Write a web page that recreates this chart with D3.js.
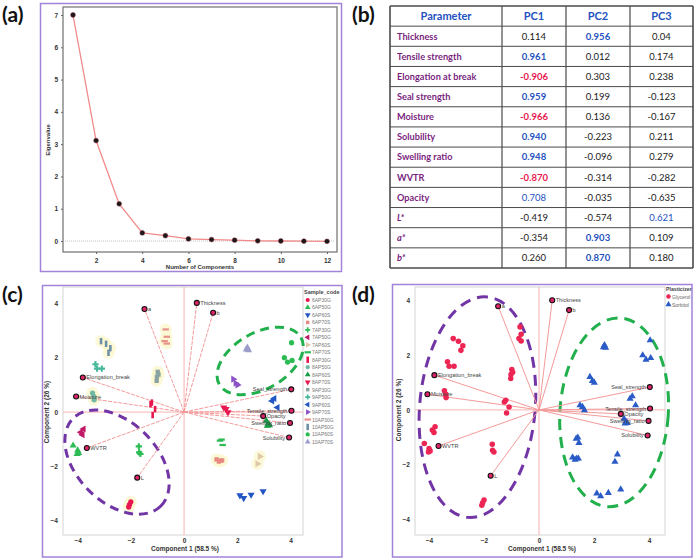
<!DOCTYPE html>
<html><head><meta charset="utf-8">
<script src="https://cdn.jsdelivr.net/npm/d3@7"></script>
<style>body{margin:0;background:#fff}svg{display:block}</style>
</head><body>
<svg id="chart" width="699" height="560"></svg>
<script>
// ---------------- DATA ----------------
const components = [1,2,3,4,5,6,7,8,9,10,11,12];
const eigenvalues = [7.0, 3.11, 1.15, 0.25, 0.165, 0.065, 0.045, 0.025, 0.005, 0.0, -0.005, -0.01];

const tableHeader = ["Parameter","PC1","PC2","PC3"];
const parameters = ["Thickness","Tensile strength","Elongation at break","Seal strength","Moisture","Solubility","Swelling ratio","WVTR","Opacity","L*","a*","b*"];
const pc1 = ["0.114","0.961","-0.906","0.959","-0.966","0.940","0.948","-0.870","0.708","-0.419","-0.354","0.260"];
const pc2 = ["0.956","0.012","0.303","0.199","0.136","-0.223","-0.096","-0.314","-0.035","-0.574","0.903","0.870"];
const pc3 = ["0.04","0.174","0.238","-0.123","-0.167","0.211","0.279","-0.282","-0.635","0.621","0.109","0.180"];

const loadingLabels = ["Thickness","Tensile_strength","Elongation_break","Seal_strength","Moisture","Solubility","Swelling_ratio","WVTR","Opacity","L","a","b"];
const loadingScale = 4.2;

const sampleCodes = ["6AP30G","6AP50G","6AP60S","6AP70S","7AP30G","7AP50G","7AP60S","7AP70S","8AP30G","8AP50G","8AP60S","8AP70S","9AP30G","9AP50G","9AP60S","9AP70S","10AP30G","10AP50G","10AP60S","10AP70S"];
const plasticizer = ["Glycerol","Glycerol","Sorbitol","Sorbitol","Glycerol","Glycerol","Sorbitol","Sorbitol","Glycerol","Glycerol","Sorbitol","Sorbitol","Glycerol","Glycerol","Sorbitol","Sorbitol","Glycerol","Glycerol","Sorbitol","Sorbitol"];
const scores = [
  [[-2.0,-3.30],[-2.05,-3.40],[-2.08,-3.49]],
  [[-4.17,-1.23],[-4.0,-1.41],[-4.02,-1.54],[-3.96,-1.5]],
  [[2.1,-3.06],[2.24,-3.16],[2.52,-3.04],[2.97,-2.91]],
  [[1.22,-1.74],[1.31,-1.82],[1.37,-1.78],[1.43,-1.78]],
  [[-1.70,-1.26],[-1.69,-1.48],[-1.64,-1.54]],
  [[-3.78,-0.62],[-3.88,-0.74],[-3.82,-0.83]],
  [[2.85,-1.63],[2.76,-1.90]],
  [[1.35,-1.05],[1.41,-1.01],[1.45,-1.21]],
  [[-1.26,0.29],[-1.21,0.35],[-1.09,0.11],[-1.18,-0.11]],
  [[-3.44,0.70],[-3.39,0.57],[-3.38,0.45]],
  [[3.09,-0.32],[3.16,-0.44],[3.21,-0.48],[3.13,-0.5]],
  [[1.49,0.17],[1.58,0.11],[1.65,-0.01]],
  [[-0.99,1.48],[-0.96,1.38],[-1.02,1.30],[-1.03,1.15]],
  [[-3.33,1.76],[-3.27,1.60],[-3.09,1.60]],
  [[3.31,0.41],[3.39,0.50],[3.51,0.17]],
  [[1.85,1.21],[1.94,1.06],[2.01,1.0]],
  [[-0.69,3.04],[-0.65,2.77],[-0.73,2.61],[-0.65,2.52]],
  [[-3.12,2.61],[-2.93,2.51],[-2.77,2.35],[-2.84,2.18]],
  [[4.04,2.55],[3.77,2.0],[3.89,1.84],[4.06,1.90]],
  [[2.38,2.37],[2.34,2.30],[2.42,2.28]]
];
const axisTicks = [-4,-2,0,2,4];

// ---------------- STYLE ----------------
const groupShapes = ["circle","tri","tridown","square","cross","triL","triR","hdash","vbar","circle","tri","tridown","square","cross","triL","triR","hdash","vbar","circle","tri"];
const groupColors = ["#e8174f","#2dbb55","#2255c4","#e88a84","#2dbb55","#c01866","#e0c9a9","#2dbb55","#e8174f","#72b8a4","#169a44","#e8174f","#8aa3a0","#48b89c","#2255c4","#8a52c4","#e8928c","#6e8fa6","#2dbb55","#9c9ccc"];
const haloGroups = new Set([0,3,6,9,12,16,17]);
const purple = "#a283d8";
const svg = d3.select("#chart");
svg.append("rect").attr("width",699).attr("height",560).attr("fill","#fff");

// panel letters
[["(a)",2,22],["(b)",352,22],["(c)",2,302],["(d)",352,302]].forEach(([t,x,y])=>{
  svg.append("text").attr("x",x).attr("y",y).text(t)
    .attr("font-family","Lato, 'Open Sans', sans-serif").attr("font-weight",700).attr("font-size",21).attr("fill","#111");
});

// ---------------- PANEL A ----------------
(function(){
  const g = svg.append("g");
  g.append("rect").attr("x",40.5).attr("y",3.5).attr("width",301).attr("height",268)
    .attr("fill","none").attr("stroke",purple).attr("stroke-width",1.5);
  const L=63,T=7,R=337,B=252;
  g.append("rect").attr("x",L).attr("y",T).attr("width",R-L).attr("height",B-T)
    .attr("fill","#fff").attr("stroke","#7a7a7a").attr("stroke-width",1.3);
  const x = d3.scaleLinear().domain([1,12]).range([73,327]);
  const y = d3.scaleLinear().domain([0,7]).range([241,15]);
  const ax = g.append("g").attr("transform",`translate(${L},0)`).call(d3.axisLeft(y).tickValues(d3.range(0,8)).tickFormat(d3.format("d")).tickSize(2).tickPadding(3));
  const bx = g.append("g").attr("transform",`translate(0,${B})`).call(d3.axisBottom(x).tickValues([2,4,6,8,10,12]).tickFormat(d3.format("d")).tickSize(2).tickPadding(4));
  [ax,bx].forEach(a=>{a.select(".domain").remove();a.selectAll("line").attr("stroke","#666");
    a.selectAll("text").attr("font-size",6.5).attr("font-weight",700).attr("fill","#333").attr("font-family","Liberation Sans, Arial, sans-serif");});
  g.append("line").attr("x1",L+2).attr("x2",R-2).attr("y1",y(0)).attr("y2",y(0))
    .attr("stroke","#b0b0b0").attr("stroke-width",0.8).attr("stroke-dasharray","1,1");
  g.append("path").datum(eigenvalues).attr("fill","none").attr("stroke","#f28a8a").attr("stroke-width",1.3)
    .attr("d",d3.line().x((d,i)=>x(components[i])).y(d=>y(d)));
  g.selectAll("circle.e").data(eigenvalues).join("circle").attr("cx",(d,i)=>x(components[i])).attr("cy",d=>y(d))
    .attr("r",2.4).attr("fill","#1a1a1a").attr("stroke","#7a2030").attr("stroke-width",0.5);
  g.append("text").attr("transform","translate(50,140) rotate(-90)").attr("text-anchor","middle").text("Eigenvalue")
    .attr("font-size",6).attr("font-weight",700).attr("fill","#333").attr("font-family","Liberation Sans, Arial, sans-serif");
  g.append("text").attr("x",200).attr("y",268.5).attr("text-anchor","middle").text("Number of Components")
    .attr("font-size",6).attr("font-weight",700).attr("fill","#333").attr("font-family","Liberation Sans, Arial, sans-serif");
})();

// ---------------- PANEL B (table) ----------------
(function(){
  const g = svg.append("g");
  const cols = [390,502,566,630,693];
  const top = 6, rowH = (268-6)/13, nRows = 13;
  const font = "Lato, 'Open Sans', sans-serif";
  for(let r=0;r<=nRows;r++){
    g.append("line").attr("x1",cols[0]).attr("x2",cols[4]).attr("y1",top+r*rowH).attr("y2",top+r*rowH)
      .attr("stroke","#4a4a4a").attr("stroke-width",(r===0||r===nRows)?1.6:1);
  }
  cols.forEach((c,i)=>g.append("line").attr("x1",c).attr("x2",c).attr("y1",top).attr("y2",top+nRows*rowH)
      .attr("stroke","#4a4a4a").attr("stroke-width",(i===0||i===4)?1.6:1.2));
  const centers = cols.slice(0,4).map((c,i)=>(c+cols[i+1])/2);
  tableHeader.forEach((h,i)=>g.append("text").attr("x",centers[i]).attr("y",top+rowH/2+4).attr("text-anchor","middle")
     .text(h).attr("font-family",font).attr("font-weight",700).attr("font-size",11).attr("fill","#2452c0"));
  function style(v){const n=+v; if(n>=0.8) return ["#2452c0",700]; if(n<=-0.8) return ["#e8174f",700]; if(n>=0.6) return ["#2452c0",400]; return ["#1a1a1a",400];}
  parameters.forEach((p,r)=>{
    const yy = top+(r+1)*rowH+rowH/2+3.3;
    g.append("text").attr("x",397).attr("y",yy).text(p).attr("font-family",font).attr("font-weight",700)
      .attr("font-size",9.2).attr("fill","#7a1f7e").attr("font-style",p.endsWith("*")?"italic":"normal");
    [pc1,pc2,pc3].forEach((arr,ci)=>{
      const [col,w]=style(arr[r]);
      g.append("text").attr("x",centers[ci+1]).attr("y",yy).attr("text-anchor","middle").text(arr[r])
        .attr("font-family",font).attr("font-weight",w).attr("font-size",9.5).attr("fill",col);
    });
  });
})();

// ---------------- BIPLOTS ----------------
function marker(sel, type, color, size){
  const s = size||22;
  let path;
  const rot = {tri:0,tridown:180,triL:-90,triR:90}[type];
  if(type==="circle") path = d3.symbol(d3.symbolCircle, s)();
  else if(type==="square") path = d3.symbol(d3.symbolSquare, s*0.85)();
  else if(type==="cross") path = d3.symbol(d3.symbolCross, s)();
  else if(type==="hdash") path = "M-3.2,-1.1h6.4v2.2h-6.4z";
  else if(type==="vbar") path = "M-1.3,-3.2h2.6v6.4h-2.6z";
  else path = d3.symbol(d3.symbolTriangle, s)();
  sel.append("path").attr("d",path).attr("fill",color).attr("transform",sel.attr("data-t")+ (rot!==undefined?` rotate(${rot})`:""));
}

function biplot(cfg){
  const g = svg.append("g");
  const [fx0,fy0,fx1,fy1]=cfg.frame;
  g.append("rect").attr("x",fx0).attr("y",fy0).attr("width",fx1-fx0).attr("height",fy1-fy0)
    .attr("fill","#fff").attr("stroke",purple).attr("stroke-width",1.5);
  const [L,T,R,B]=cfg.plot;
  const x = d3.scaleLinear().domain(cfg.xd).range([L,R]);
  const y = d3.scaleLinear().domain(cfg.yd).range([B,T]);
  g.append("rect").attr("x",L).attr("y",T).attr("width",R-L).attr("height",B-T).attr("fill","#fff").attr("stroke","#d4d4d4").attr("stroke-width",1);
  const ax = g.append("g").attr("transform",`translate(${L},0)`).call(d3.axisLeft(y).tickValues(axisTicks).tickFormat(d3.format("d")).tickSize(0).tickPadding(5));
  const bx = g.append("g").attr("transform",`translate(0,${B})`).call(d3.axisBottom(x).tickValues(axisTicks).tickFormat(d3.format("d")).tickSize(0).tickPadding(3));
  [ax,bx].forEach(a=>{a.select(".domain").remove();
    a.selectAll("text").attr("font-size",6.5).attr("font-weight",700).attr("fill","#333").attr("font-family","Liberation Sans, Arial, sans-serif");});
  const tf = "Liberation Sans, Arial, sans-serif";
  g.append("text").attr("x",(L+R)/2+2).attr("y",B+16).attr("text-anchor","middle").text("Component 1  (58.5 %)")
    .attr("font-size",6.5).attr("font-weight",700).attr("fill","#333").attr("font-family",tf);
  g.append("text").attr("transform",`translate(${L-14},${y(0)}) rotate(-90)`).attr("text-anchor","middle").text("Component 2  (26 %)")
    .attr("font-size",6.5).attr("font-weight",700).attr("fill","#333").attr("font-family",tf);
  // reference lines
  g.append("line").attr("x1",x(0)).attr("x2",x(0)).attr("y1",T).attr("y2",B).attr("stroke","#f7b3b3").attr("stroke-width",1);
  g.append("line").attr("x1",L).attr("x2",R).attr("y1",y(0)).attr("y2",y(0)).attr("stroke","#f7b3b3").attr("stroke-width",1);
  // halos
  scores.forEach((pts,gi)=>{
    if(cfg.halo && haloGroups.has(gi)){
      pts.forEach(p=>g.append("circle").attr("cx",x(p[0])).attr("cy",y(p[1])).attr("r",6).attr("fill","#fbf8cf").attr("opacity",0.8));
    }
  });
  // ellipses
  cfg.ellipses.forEach(e=>{
    const rx = x(e.cx+e.rx)-x(e.cx), ry = y(e.cy)-y(e.cy+e.ry);
    g.append("ellipse").attr("cx",0).attr("cy",0).attr("rx",rx).attr("ry",ry)
      .attr("transform",`translate(${x(e.cx)},${y(e.cy)}) rotate(${e.rot})`)
      .attr("fill","none").attr("stroke",e.color).attr("stroke-width",3).attr("stroke-dasharray",cfg.dash);
  });
  // loading vectors
  const load = parameters.map((p,i)=>({name:loadingLabels[i], x:+pc1[i]*loadingScale, y:+pc2[i]*loadingScale}));
  load.forEach(l=>{
    g.append("line").attr("x1",x(0)).attr("y1",y(0)).attr("x2",x(l.x)).attr("y2",y(l.y))
      .attr("stroke","#f49a9a").attr("stroke-width",1).attr("stroke-dasharray",cfg.vecDash||null);
  });
  scores.forEach((pts,gi)=>{
    pts.forEach(p=>{
      const s = g.append("g").attr("data-t",`translate(${x(p[0])},${y(p[1])})`);
      if(cfg.byPlasticizer){
        const isG = plasticizer[gi]==="Glycerol";
        marker(s, isG?"circle":"tri", isG?"#ec2553":"#2a5bc6", isG?24:22);
      } else marker(s, groupShapes[gi], groupColors[gi], 22);
    });
  });
  const leftSide = new Set(["Seal_strength","Tensile_strength","Swelling_ratio","Solubility"]);
  load.forEach(l=>{
    g.append("circle").attr("cx",x(l.x)).attr("cy",y(l.y)).attr("r",2.5).attr("fill","#e0246a").attr("stroke","#111").attr("stroke-width",1.1);
    const left = leftSide.has(l.name);
    g.append("text").attr("x",x(l.x)+(left?-4:3.5)).attr("y",y(l.y)+2).attr("text-anchor",left?"end":"start")
      .text(l.name).attr("font-size",5.6).attr("fill","#444").attr("font-family",tf);
  });
  cfg.legend(g);
}

biplot({
  frame:[42.5,285.5,342,557], plot:[63,287,303,535], xd:[-4.55,4.47], yd:[-4.52,4.6],
  halo:true, dash:"9,6", vecDash:"4,1.2",
  ellipses:[{cx:-2.52,cy:-1.84,rx:2.33,ry:1.47,rot:45,color:"#7235a5"},
            {cx:2.86,cy:1.88,rx:1.77,ry:1.03,rot:-30,color:"#22b04d"}],
  legend:(g)=>{
    g.append("text").attr("x",304).attr("y",294).text("Sample_code").attr("font-size",5.5).attr("font-weight",700).attr("fill","#444").attr("font-family","Liberation Sans, Arial, sans-serif");
    sampleCodes.forEach((c,i)=>{
      const yy = 300+i*7.47;
      const s = g.append("g").attr("data-t",`translate(307.7,${yy})`);
      marker(s, groupShapes[i], groupColors[i], 14);
      g.append("text").attr("x",312).attr("y",yy+2).text(c).attr("font-size",5).attr("fill","#777").attr("font-family","Liberation Sans, Arial, sans-serif");
    });
  }
});

biplot({
  frame:[392.5,284.5,692,557], plot:[415,287,665,535], xd:[-4.51,4.58], yd:[-4.58,4.5],
  halo:false, dash:"11,7", byPlasticizer:true,
  ellipses:[{cx:-2.24,cy:0.1,rx:2.1,ry:4.05,rot:5,color:"#7235a5"},
            {cx:2.73,cy:-0.09,rx:1.97,ry:3.46,rot:4,color:"#22b04d"}],
  legend:(g)=>{
    g.append("text").attr("x",666).attr("y",291).text("Plasticizer").attr("font-size",5.2).attr("font-weight",700).attr("fill","#444").attr("font-family","Liberation Sans, Arial, sans-serif");
    ["Glycerol","Sorbitol"].forEach((c,i)=>{
      const yy = 296.5+i*8;
      const s = g.append("g").attr("data-t",`translate(668.5,${yy})`);
      marker(s, i===0?"circle":"tri", i===0?"#ec2553":"#2a5bc6", 16);
      g.append("text").attr("x",672).attr("y",yy+2).text(c).attr("font-size",5).attr("fill","#666").attr("font-family","Liberation Sans, Arial, sans-serif");
    });
  }
});
</script>
</body></html>
